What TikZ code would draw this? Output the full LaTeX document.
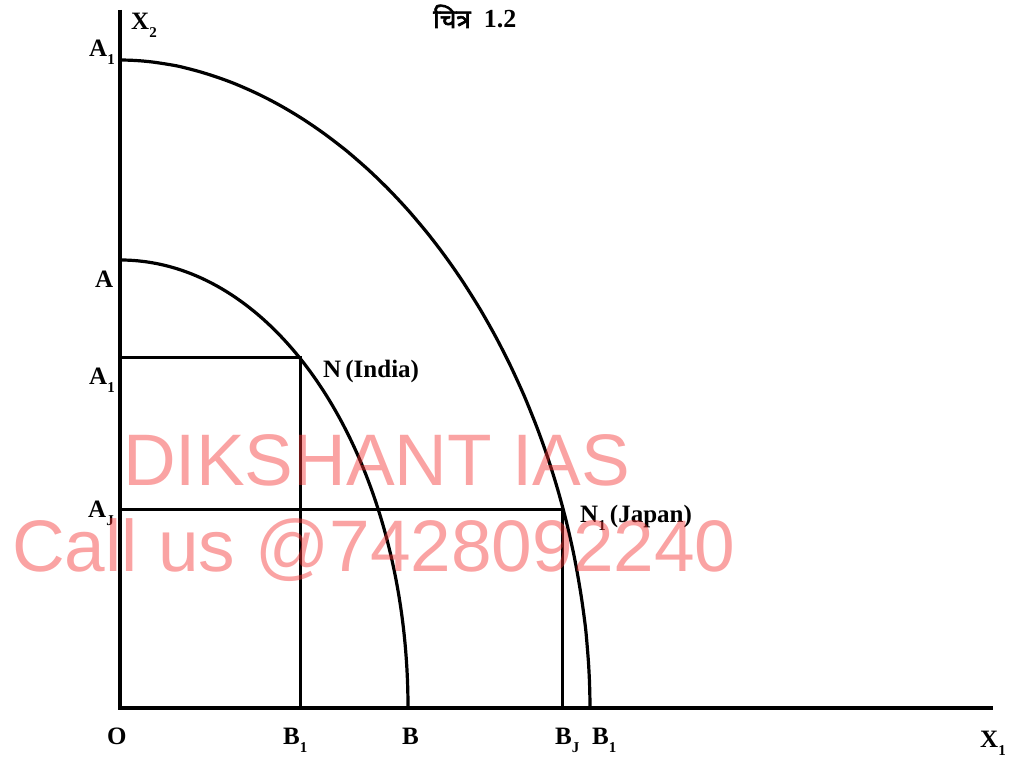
\documentclass[tikz,border=0pt]{standalone}
\usepackage{fontspec}
\setmainfont{Liberation Serif}
\newfontfamily\deva[Script=Devanagari,FakeBold=2.5]{Noto Sans}
\newfontfamily\wm{Liberation Sans}
\newcommand\sbs[1]{\raisebox{-0.32em}{\fontsize{15}{15}\selectfont #1}}
\begin{document}
\begin{tikzpicture}[x=1pt,y=1pt,
  axis/.style={line width=3.2pt},
  curve/.style={line width=3.2pt},
  guide/.style={line width=3pt},
  lbl/.style={inner sep=0pt,anchor=base west,font=\fontsize{25}{25}\selectfont\bfseries},
  water/.style={inner sep=0pt,anchor=base west,text={rgb,255:red,245;green,50;blue,50},text opacity=0.45,font=\wm\fontsize{73}{73}\selectfont}]
\useasboundingbox (0,0) rectangle (1020,759);
% axes
\coordinate (O) at (120,51);
\coordinate (ytop) at (120,749);
\coordinate (xend) at (993,51);
\draw[axis] (ytop) -- (O) -- (xend);
% curves
\coordinate (A1t) at (120,699);
\coordinate (A) at (120,499);
\coordinate (B1r) at (590,51);
\coordinate (B) at (408,51);
\draw[curve] plot[smooth,domain=0:90,samples=61] ({120+470*(cos(\x)+0.00001)^1.0526},{51+648*(sin(\x)+0.00001)^1.0526});
\draw[curve] (A) arc[start angle=90,end angle=0,x radius=288,y radius=448];
% guides
\coordinate (A1m) at (120,401);
\coordinate (N) at (300,401);
\coordinate (B1m) at (300,51);
\coordinate (AJ) at (120,249);
\coordinate (N1) at (562,249);
\coordinate (BJ) at (562,51);
\draw[guide] (A1m) -- (N) -- (B1m);
\draw[guide] (AJ) -- (N1) -- (BJ);
% labels
\node[lbl] (lx2) at (131,729) {X\sbs{2}};
\node[lbl] (la1t) at (89,702) {A\sbs{1}};
\node[lbl] (la) at (95,471) {A};
\node[lbl] (la1m) at (89,374) {A\sbs{1}};
\node[lbl] (laj) at (88,241) {A\sbs{J}};
\node[lbl] (lN) at (323,381) {N\,(India)};
\node[lbl] (lN1) at (580,236) {N\sbs{1}\,(Japan)};
\node[lbl] (lO) at (107,14) {O};
\node[lbl] (lB1) at (283,14) {B\sbs{1}};
\node[lbl] (lB) at (402,14) {B};
\node[lbl] (lBJ) at (555,14) {B\sbs{J}};
\node[lbl] (lB1r) at (592,14) {B\sbs{1}};
\node[lbl] (lX1) at (980,11) {X\sbs{1}};
\node[lbl,font=\fontsize{26}{26}\selectfont\bfseries] (title) at (433,731) {{\deva\mdseries चित्र}\ \ 1.2};
% watermark
\node[water] (w1) at (123,273) {DIKSHANT IAS};
\node[water] (w2) at (12,187) {Call us @7428092240};
\end{tikzpicture}
\end{document}
